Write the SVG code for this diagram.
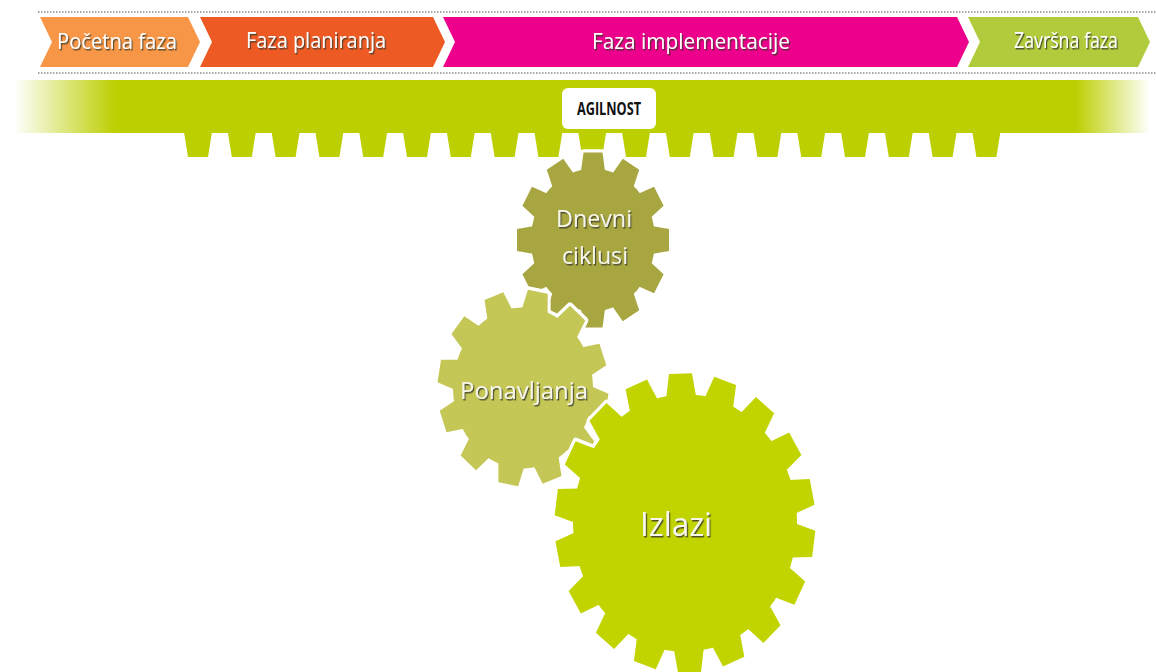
<svg xmlns="http://www.w3.org/2000/svg" xmlns:xlink="http://www.w3.org/1999/xlink" width="1156" height="672" viewBox="0 0 1156 672">
  <defs>
    <style>
      .dots { stroke: #a8a8a8; stroke-width: 2; stroke-dasharray: 1.5 1.5; fill: none; }
      .phase { font-family: "Open Sans", "Liberation Sans", sans-serif; font-size: 21px; fill: #ffffff; text-anchor: middle; filter: url(#shadow); }
      .gtxt { font-family: "Open Sans", "Liberation Sans", sans-serif; fill: #f6f6ea; text-anchor: middle; filter: url(#shadow); }
      .label { font-family: "Open Sans", "Liberation Sans", sans-serif; font-weight: bold; font-size: 18px; fill: #111111; text-anchor: middle; }
      .halo { fill: #ffffff; stroke: #ffffff; stroke-width: 6; stroke-linejoin: round; }
    </style>
    <filter id="shadow" x="-10%" y="-20%" width="130%" height="150%">
      <feDropShadow dx="1.2" dy="1.5" stdDeviation="0.7" flood-color="#3a3a2a" flood-opacity="0.85"/>
    </filter>
    <linearGradient id="barFade" x1="0" y1="0" x2="1156" y2="0" gradientUnits="userSpaceOnUse">
      <stop offset="0.012" stop-color="#bccf00" stop-opacity="0"/>
      <stop offset="0.1" stop-color="#bccf00" stop-opacity="1"/>
      <stop offset="0.93" stop-color="#bccf00" stop-opacity="1"/>
      <stop offset="0.995" stop-color="#bccf00" stop-opacity="0"/>
    </linearGradient>
    <!-- rack tooth under the bar -->
    <polygon id="rackTooth" points="0,0 28,0 24,25 4,25"/>
    <!-- gear outlines: body disc plus rotated teeth -->
    <g id="gearS">
      <circle r="62"/>
      <polygon id="toothS" points="-12,-60 -9.5,-76 9.5,-76 12,-60"/>
      <use xlink:href="#toothS" transform="rotate(30)"/>
      <use xlink:href="#toothS" transform="rotate(60)"/>
      <use xlink:href="#toothS" transform="rotate(90)"/>
      <use xlink:href="#toothS" transform="rotate(120)"/>
      <use xlink:href="#toothS" transform="rotate(150)"/>
      <use xlink:href="#toothS" transform="rotate(180)"/>
      <use xlink:href="#toothS" transform="rotate(210)"/>
      <use xlink:href="#toothS" transform="rotate(240)"/>
      <use xlink:href="#toothS" transform="rotate(270)"/>
      <use xlink:href="#toothS" transform="rotate(300)"/>
      <use xlink:href="#toothS" transform="rotate(330)"/>
    </g>
    <g id="gearM">
      <circle r="70"/>
      <polygon id="toothM" points="-13,-68 -10,-85 10,-85 13,-68"/>
      <use xlink:href="#toothM" transform="rotate(30)"/>
      <use xlink:href="#toothM" transform="rotate(60)"/>
      <use xlink:href="#toothM" transform="rotate(90)"/>
      <use xlink:href="#toothM" transform="rotate(120)"/>
      <use xlink:href="#toothM" transform="rotate(150)"/>
      <use xlink:href="#toothM" transform="rotate(180)"/>
      <use xlink:href="#toothM" transform="rotate(210)"/>
      <use xlink:href="#toothM" transform="rotate(240)"/>
      <use xlink:href="#toothM" transform="rotate(270)"/>
      <use xlink:href="#toothM" transform="rotate(300)"/>
      <use xlink:href="#toothM" transform="rotate(330)"/>
    </g>
    <g id="gearL">
      <circle r="112"/>
      <polygon id="toothL" points="-15,-109 -11.5,-130 11.5,-130 15,-109"/>
      <use xlink:href="#toothL" transform="rotate(20)"/>
      <use xlink:href="#toothL" transform="rotate(40)"/>
      <use xlink:href="#toothL" transform="rotate(60)"/>
      <use xlink:href="#toothL" transform="rotate(80)"/>
      <use xlink:href="#toothL" transform="rotate(100)"/>
      <use xlink:href="#toothL" transform="rotate(120)"/>
      <use xlink:href="#toothL" transform="rotate(140)"/>
      <use xlink:href="#toothL" transform="rotate(160)"/>
      <use xlink:href="#toothL" transform="rotate(180)"/>
      <use xlink:href="#toothL" transform="rotate(200)"/>
      <use xlink:href="#toothL" transform="rotate(220)"/>
      <use xlink:href="#toothL" transform="rotate(240)"/>
      <use xlink:href="#toothL" transform="rotate(260)"/>
      <use xlink:href="#toothL" transform="rotate(280)"/>
      <use xlink:href="#toothL" transform="rotate(300)"/>
      <use xlink:href="#toothL" transform="rotate(320)"/>
      <use xlink:href="#toothL" transform="rotate(340)"/>
    </g>
  </defs>

  <rect width="1156" height="672" fill="#ffffff"/>

  <!-- phase ribbon -->
  <line class="dots" x1="38" y1="12" x2="1156" y2="12"/>
  <line class="dots" x1="38" y1="73" x2="1156" y2="73"/>

  <g id="phase-pocetna">
    <polygon points="40,17 188,17 200,42 188,67 40,67 52,42" fill="#f79646"/>
    <text class="phase" x="117" y="49" textLength="120" lengthAdjust="spacingAndGlyphs">Početna faza</text>
  </g>
  <g id="phase-planiranje">
    <polygon points="200,17 433,17 445,42 433,67 200,67 212,42" fill="#ee5a24"/>
    <text class="phase" x="316" y="48" textLength="140" lengthAdjust="spacingAndGlyphs">Faza planiranja</text>
  </g>
  <g id="phase-implementacija">
    <polygon points="443,17 957,17 969,42 957,67 443,67 455,42" fill="#ec008c"/>
    <text class="phase" x="691" y="49" textLength="198" lengthAdjust="spacingAndGlyphs">Faza implementacije</text>
  </g>
  <g id="phase-zavrsna">
    <polygon points="968,17 1138,17 1150,42 1138,67 968,67 980,42" fill="#b0cc3c"/>
    <text class="phase" x="1066" y="48" textLength="104" lengthAdjust="spacingAndGlyphs">Završna faza</text>
  </g>

  <!-- agility rack -->
  <g id="agilnost">
    <rect x="0" y="80" width="1156" height="53" fill="url(#barFade)"/>
    <g fill="#bccf00">
      <use xlink:href="#rackTooth" x="184" y="132"/>
      <use xlink:href="#rackTooth" x="227.8" y="132"/>
      <use xlink:href="#rackTooth" x="271.6" y="132"/>
      <use xlink:href="#rackTooth" x="315.4" y="132"/>
      <use xlink:href="#rackTooth" x="359.2" y="132"/>
      <use xlink:href="#rackTooth" x="403" y="132"/>
      <use xlink:href="#rackTooth" x="446.8" y="132"/>
      <use xlink:href="#rackTooth" x="490.6" y="132"/>
      <use xlink:href="#rackTooth" x="534.4" y="132"/>
      <use xlink:href="#rackTooth" x="578.2" y="132"/>
      <use xlink:href="#rackTooth" x="622" y="132"/>
      <use xlink:href="#rackTooth" x="665.8" y="132"/>
      <use xlink:href="#rackTooth" x="709.6" y="132"/>
      <use xlink:href="#rackTooth" x="753.4" y="132"/>
      <use xlink:href="#rackTooth" x="797.2" y="132"/>
      <use xlink:href="#rackTooth" x="841" y="132"/>
      <use xlink:href="#rackTooth" x="884.8" y="132"/>
      <use xlink:href="#rackTooth" x="928.6" y="132"/>
      <use xlink:href="#rackTooth" x="972.4" y="132"/>
    </g>
    <rect x="562" y="88" width="94" height="41" rx="6" fill="#ffffff"/>
    <text class="label" x="609" y="115" textLength="64" lengthAdjust="spacingAndGlyphs">AGILNOST</text>
  </g>

  <!-- Dnevni ciklusi -->
  <g id="gear-dnevni">
    <g transform="translate(593,240) scale(1,1.15)">
      <use xlink:href="#gearS" class="halo"/>
      <use xlink:href="#gearS" fill="#a8a640"/>
    </g>
    <text class="gtxt" x="594" y="227" font-size="23" textLength="76" lengthAdjust="spacingAndGlyphs">Dnevni</text>
    <text class="gtxt" x="595" y="264" font-size="23" textLength="66" lengthAdjust="spacingAndGlyphs">ciklusi</text>
  </g>

  <!-- Ponavljanja -->
  <g id="gear-ponavljanja">
    <g transform="translate(523,388) scale(1,1.15) rotate(10)">
      <use xlink:href="#gearM" class="halo"/>
      <use xlink:href="#gearM" fill="#c4c655"/>
    </g>
    <text class="gtxt" x="524" y="399" font-size="23" textLength="128" lengthAdjust="spacingAndGlyphs">Ponavljanja</text>
  </g>

  <!-- Izlazi -->
  <g id="gear-izlazi">
    <g transform="translate(685,523) scale(1,1.15) rotate(-2)">
      <use xlink:href="#gearL" class="halo"/>
      <use xlink:href="#gearL" fill="#c2d400"/>
    </g>
    <text class="gtxt" x="676" y="536" font-size="33" textLength="72" lengthAdjust="spacingAndGlyphs">Izlazi</text>
  </g>
</svg>
